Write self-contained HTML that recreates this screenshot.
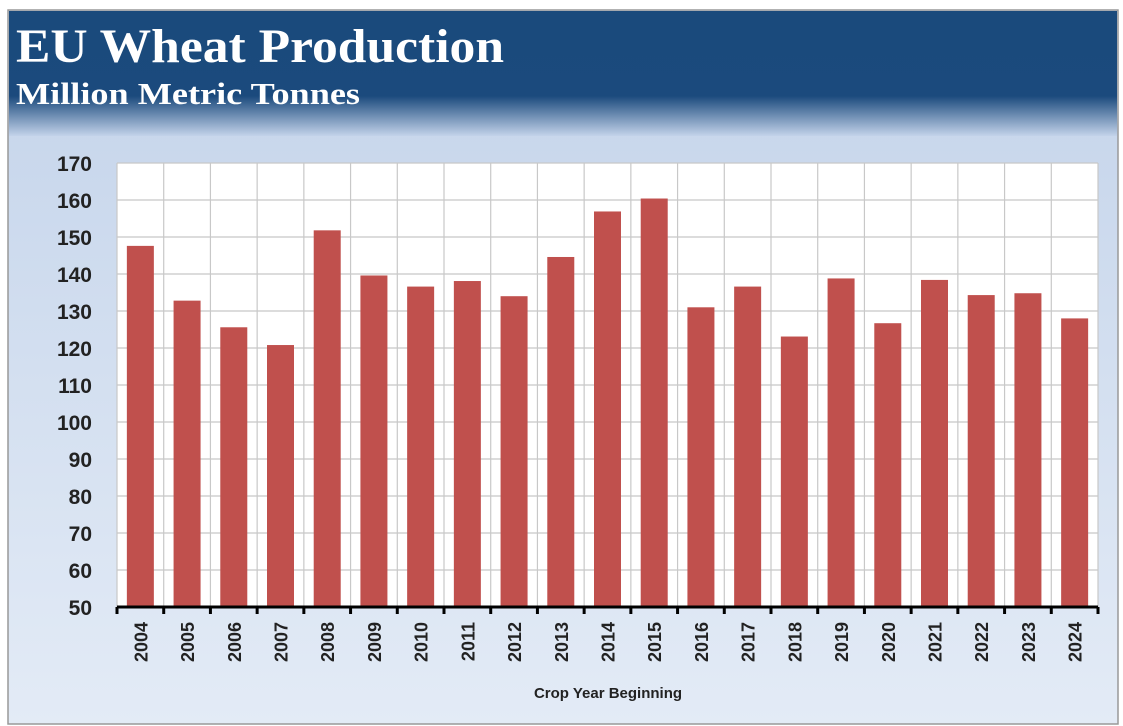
<!DOCTYPE html>
<html><head><meta charset="utf-8"><style>
html,body{margin:0;padding:0;background:#fff;width:1123px;height:726px;overflow:hidden}
svg{display:block}
</style></head><body>
<svg id="chart" width="1123" height="726">
<defs>
<linearGradient id="bg" x1="0" y1="0" x2="0" y2="1">
<stop offset="0" stop-color="#c3d3ea"/><stop offset="1" stop-color="#e3ebf6"/>
</linearGradient>
<linearGradient id="hd" x1="0" y1="0" x2="0" y2="1">
<stop offset="0" stop-color="#1a4a7c"/><stop offset="0.68" stop-color="#1b4a7d"/><stop offset="1" stop-color="#c3d3ea"/>
</linearGradient>
</defs>
<rect x="8" y="10" width="1110" height="714" fill="url(#bg)" stroke="#999" stroke-width="1.5"/>
<rect x="9" y="11" width="1108" height="125" fill="url(#hd)"/>
<text x="16" y="62" font-family="Liberation Serif, serif" font-weight="bold" font-size="48" textLength="488" lengthAdjust="spacingAndGlyphs" fill="#fff">EU Wheat Production</text>
<text x="16" y="104" font-family="Liberation Serif, serif" font-weight="bold" font-size="31" textLength="344" lengthAdjust="spacingAndGlyphs" fill="#fff">Million Metric Tonnes</text>
<rect x="117" y="163" width="981" height="444" fill="#fff"/>
<g id="grid"></g><g id="bars"></g><g id="axes"></g>
<text x="608" y="698" text-anchor="middle" font-family="Liberation Sans, sans-serif" font-weight="bold" font-size="15" fill="#222">Crop Year Beginning</text>
</svg>
<script>
const categories=["2004","2005","2006","2007","2008","2009","2010","2011","2012","2013","2014","2015","2016","2017","2018","2019","2020","2021","2022","2023","2024"];
const values=[147.6,132.8,125.6,120.8,151.8,139.6,136.6,138.1,134.0,144.6,156.9,160.4,131.0,136.6,123.1,138.8,126.7,138.4,134.3,134.8,128.0];
const yTicks=[50,60,70,80,90,100,110,120,130,140,150,160,170];
const NS="http://www.w3.org/2000/svg";
const L=117,R=1098,T=163,B=607,ymin=50,ymax=170;
const y=v=>B-(v-ymin)/(ymax-ymin)*(B-T);
const bw=(R-L)/categories.length;
const x=i=>L+i*bw;
function mk(tag,attrs,parent){const e=document.createElementNS(NS,tag);for(const k in attrs)e.setAttribute(k,attrs[k]);document.querySelector(parent).appendChild(e);return e;}
yTicks.forEach(t=>{
  if(t>ymin){const g=mk('line',{x1:L,x2:R,y1:y(t),y2:y(t),stroke:'#c8c8c8','stroke-width':1.2},'#grid');
  
  }
  const lb=mk('text',{x:92,y:y(t)+8,'text-anchor':'end','font-family':'Liberation Sans, sans-serif','font-weight':'bold','font-size':21,fill:'#222'},'#axes');
  lb.textContent=t;
  
  
});
for(let i=0;i<=categories.length;i++){
  const v=mk('line',{x1:x(i),x2:x(i),y1:T,y2:B,stroke:'#c8c8c8','stroke-width':1.2},'#grid');
  
  
  const tk=mk('line',{x1:x(i),x2:x(i),y1:B,y2:B+7,stroke:'#000','stroke-width':3},'#axes');
  
  
}
categories.forEach((c,i)=>{
  const w=27,cx=x(i)+bw/2;
  const b=mk('rect',{x:cx-w/2,y:y(values[i]),width:w,height:B-y(values[i]),fill:'#c0504d'},'#bars');
  
  
  const t=mk('text',{x:0,y:0,transform:`translate(${cx+7},${622}) rotate(-90)`,'text-anchor':'end','font-family':'Liberation Sans, sans-serif','font-weight':'bold','font-size':18,fill:'#222'},'#axes');
  t.textContent=c;
  
  
});
const ax=mk('line',{x1:L,x2:R,y1:B,y2:B,stroke:'#000','stroke-width':3},'#axes');


</script>
</body></html>
